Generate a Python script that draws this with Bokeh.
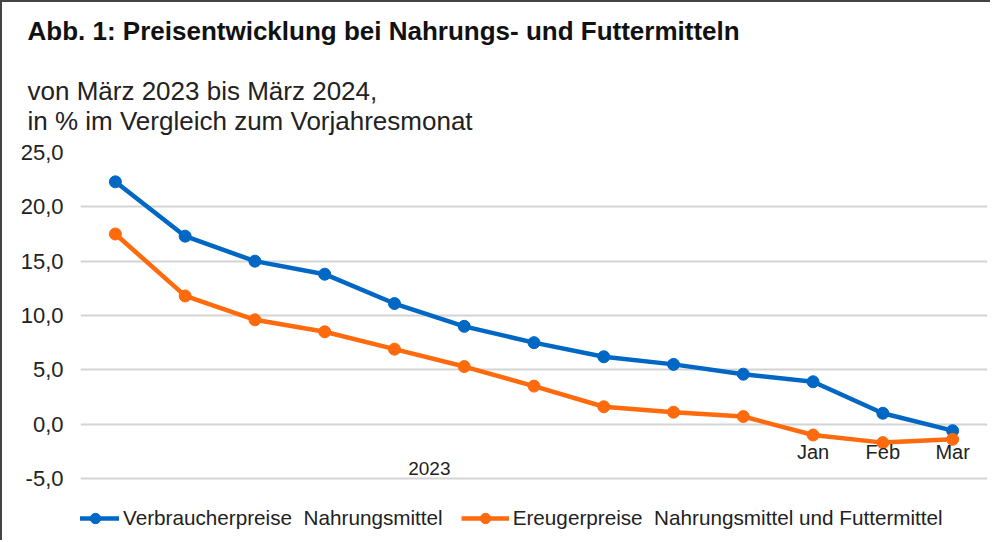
from bokeh.plotting import figure
from bokeh.models import (Range1d, FixedTicker, Title, Legend, LegendItem,
                          ColumnDataSource)
from bokeh.core.properties import value
from bokeh.embed import file_html
from bokeh.resources import INLINE

# ---- data ----
months = ["Mär", "Apr", "Mai", "Jun", "Jul", "Aug", "Sep", "Okt", "Nov", "Dez",
          "Jan", "Feb", "Mar"]
years = ["2023"] * 10 + ["2024"] * 3
month_labels = ["", "", "", "", "", "", "", "", "", "", "Jan", "Feb", "Mar"]
year_label = "2023"
verbraucher = [22.3, 17.3, 15.0, 13.8, 11.1, 9.0, 7.5, 6.2, 5.5, 4.6, 3.9, 1.0, -0.6]
erzeuger = [17.5, 11.8, 9.6, 8.5, 6.9, 5.3, 3.5, 1.6, 1.1, 0.7, -1.0, -1.7, -1.4]
y_ticks = [-5, 0, 5, 10, 15, 20, 25]
y_tick_labels = ["-5,0", "0,0", "5,0", "10,0", "15,0", "20,0", "25,0"]
series_names = ["Verbraucherpreise  Nahrungsmittel",
                "Ereugerpreise  Nahrungsmittel und Futtermittel"]
title_text = "Abb. 1: Preisentwicklung bei Nahrungs- und Futtermitteln"
subtitle_lines = ["von März 2023 bis März 2024,",
                  "in % im Vergleich zum Vorjahresmonat"]

FONT = "Liberation Sans"
BLUE = "#0068c4"
ORANGE = "#ff6a0d"

idx = list(range(len(months)))

p = figure(width=990, height=540, output_backend="svg", toolbar_location=None,
           x_range=Range1d(-0.5, len(months) - 0.5), y_range=Range1d(-10.34, 25),
           min_border_left=78, min_border_right=5, min_border_bottom=6,
           min_border_top=150, title=None)
p.outline_line_color = None
p.background_fill_color = "white"
p.border_fill_color = "white"
p.styles = {"border-left": "2px solid #444", "border-top": "2px solid #444"}

# titles (last added is outermost)
p.add_layout(Title(text="\n".join(subtitle_lines), text_font=FONT,
                   text_font_size="26px", text_font_style="normal",
                   text_color="#222222", offset=-53, standoff=34), "above")
p.add_layout(Title(text=title_text, text_font=FONT, text_font_size="26px",
                   text_font_style="bold", text_color="#111111",
                   offset=-53, standoff=22), "above")

# axes
p.xaxis.visible = False
p.yaxis.ticker = FixedTicker(ticks=y_ticks)
p.yaxis.major_label_overrides = {t: l for t, l in zip(y_ticks, y_tick_labels)}
p.yaxis.axis_line_color = None
p.yaxis.major_tick_line_color = None
p.yaxis.minor_tick_line_color = None
p.yaxis.major_label_text_font = FONT
p.yaxis.major_label_text_font_size = "22px"
p.yaxis.major_label_text_color = "#222222"
p.yaxis.major_label_standoff = 11

p.xgrid.grid_line_color = None
p.ygrid.ticker = FixedTicker(ticks=y_ticks)
p.ygrid.grid_line_color = "#d4d4d4"
p.ygrid.grid_line_width = 2

src = ColumnDataSource(dict(x=idx, v=verbraucher, e=erzeuger,
                            lab=month_labels, zero=[0] * len(idx)))

l1 = p.line("x", "v", source=src, line_color=BLUE, line_width=4.5)
c1 = p.scatter("x", "v", source=src, size=12, fill_color=BLUE, line_color=BLUE)
l2 = p.line("x", "e", source=src, line_color=ORANGE, line_width=4.5)
c2 = p.scatter("x", "e", source=src, size=12, fill_color=ORANGE, line_color=ORANGE)

# category labels along the zero line
p.text("x", "zero", text="lab", source=src, text_font=value(FONT),
       text_font_size="20px", text_color="#222222", text_align="center",
       text_baseline="middle", y_offset=28)
year_idx = [i for i, y in enumerate(years) if y == year_label]
year_x = sum(year_idx) / len(year_idx)
p.text(x=[year_x], y=[0], text=[year_label], text_font=value(FONT),
       text_font_size="19px", text_color="#222222", text_align="center",
       text_baseline="middle", y_offset=44)

legend = Legend(items=[LegendItem(label=series_names[0], renderers=[l1, c1]),
                       LegendItem(label=series_names[1], renderers=[l2, c2])],
                orientation="horizontal", location=(-9, 5),
                label_text_font=FONT, label_text_font_size="20.7px",
                label_text_color="#222222", glyph_width=48, glyph_height=26,
                label_standoff=4, spacing=18, border_line_color=None,
                background_fill_alpha=0, margin=0, padding=6)
p.add_layout(legend)

open("out.html", "w").write(file_html(p, INLINE))
